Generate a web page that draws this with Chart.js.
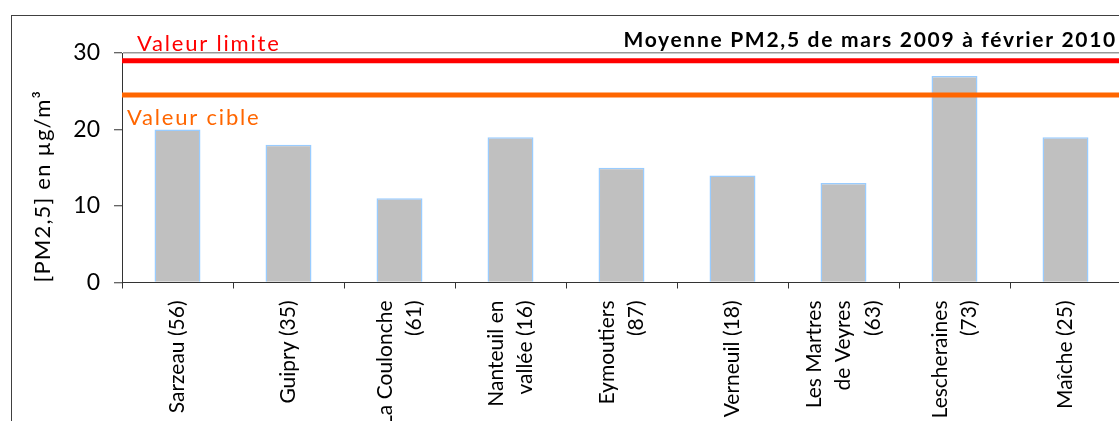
<!DOCTYPE html>
<html>
<head>
<meta charset="utf-8">
<script src="https://cdn.jsdelivr.net/npm/chart.js"></script>
<style>
  html, body { margin: 0; padding: 0; background: #fff; overflow: hidden; }
  #frame { position: absolute; left: 11px; top: 15px; width: 1125px; height: 430px; border: 1px solid #404040; }
  canvas { display: block; }
</style>
</head>
<body>
<div id="frame"><canvas id="pmChart" width="1125" height="430"></canvas></div>
<script>
// Données
var sites = [
    'Sarzeau (56)',
    'Guipry (35)',
    ['La Coulonche', '(61)'],
    ['Nanteuil en', 'vallée (16)'],
    ['Eymoutiers', '(87)'],
    'Verneuil (18)',
    ['Les Martres', 'de Veyres', '(63)'],
    ['Lescheraines', '(73)'],
    'Maîche (25)'
];
var pm25 = [20, 18, 11, 19, 15, 14, 13, 27, 19];
var valeurLimite = 29;
var valeurCible = 24.5;
var yTicks = [0, 10, 20, 30];
var titre = 'Moyenne PM2,5 de mars 2009 à février 2010';
var titreAxeY = '[PM2,5] en µg/m³';

var ctx = document.getElementById('pmChart').getContext('2d');

// textes posés sur le graphique (titre, noms des seuils) + petits réglages de dessin
var annotations = {
    id: 'annotations',
    beforeDraw: function(chart) {
        // centrer les étiquettes sur plusieurs lignes autour de leur graduation
        chart.scales.x.getLabelItems().forEach(function(item) {
            if (item._centered) return;
            var n = Array.isArray(item.label) ? item.label.length : 1;
            item.textOffset -= (n - 1) * item.font.lineHeight / 2;
            item._centered = true;
        });
        // interlettrage du titre de l'axe Y
        var ys = chart.scales.y;
        if (!ys._spaced) {
            var orig = ys.drawTitle;
            ys.drawTitle = function() {
                this.ctx.save();
                this.ctx.letterSpacing = '1.2px';
                orig.call(this);
                this.ctx.restore();
            };
            ys._spaced = true;
        }
    },
    afterDraw: function(chart) {
        var c = chart.ctx, area = chart.chartArea, y = chart.scales.y;
        c.save();
        c.letterSpacing = '1.8px';
        c.textBaseline = 'alphabetic';
        c.textAlign = 'left';
        c.font = '22px Lato';
        c.fillStyle = '#FF0000';
        c.fillText('Valeur limite', area.left + 15, y.getPixelForValue(valeurLimite) - 10);
        c.fillStyle = '#FF6600';
        c.fillText('Valeur cible', area.left + 5, y.getPixelForValue(valeurCible) + 30);
        c.letterSpacing = '1.7px';
        c.font = 'bold 21px Lato';
        c.fillStyle = '#000';
        c.textAlign = 'right';
        c.fillText(titre, area.right - 4, area.top - 6);
        c.restore();
    }
};

var chart = new Chart(ctx, {
    type: 'bar',
    data: {
        labels: sites,
        datasets: [
            {
                type: 'line',
                label: 'Valeur limite',
                xAxisID: 'x2',
                data: [{x: 0, y: valeurLimite}, {x: 1, y: valeurLimite}],
                borderColor: '#FF0000',
                borderWidth: 5,
                pointRadius: 0,
                order: 0
            },
            {
                type: 'line',
                label: 'Valeur cible',
                xAxisID: 'x2',
                data: [{x: 0, y: valeurCible}, {x: 1, y: valeurCible}],
                borderColor: '#FF6600',
                borderWidth: 5,
                pointRadius: 0,
                order: 0
            },
            {
                label: 'PM2,5',
                data: pm25,
                backgroundColor: '#C0C0C0',
                borderColor: '#99CCFF',
                borderWidth: 1.5,
                barPercentage: 0.414,
                categoryPercentage: 1,
                grouped: false,
                order: 1
            }
        ]
    },
    options: {
        responsive: false,
        animation: false,
        layout: { padding: { top: 37, right: 16, left: 0, bottom: 0 } },
        plugins: {
            legend: { display: false },
            tooltip: { enabled: false }
        },
        scales: {
            x: {
                ticks: {
                    autoSkip: false,
                    minRotation: 90,
                    maxRotation: 90,
                    padding: 12,
                    color: '#000',
                    font: { family: 'Lato', size: 21, lineHeight: 1.4 }
                },
                grid: { drawOnChartArea: false, tickLength: 6, color: '#333', offset: true },
                border: { color: '#333' },
                afterFit: function(s) { s.height = 163.5; }
            },
            x2: {
                type: 'linear',
                position: 'top',
                display: false,
                offset: false,
                grace: 0,
                min: 0,
                max: 1
            },
            y: {
                min: 0,
                max: 30,
                afterBuildTicks: function(s) {
                    s.ticks = yTicks.map(function(v) { return { value: v }; });
                },
                ticks: { padding: 14, color: '#000', font: { family: 'Lato', size: 23 } },
                grid: {
                    // seul le haut de la zone de tracé est bordé de gris
                    color: function(c) { return c.tick && c.tick.value === 30 ? '#999999' : 'rgba(0,0,0,0)'; },
                    lineWidth: 1.5,
                    tickColor: '#333',
                    tickWidth: 1,
                    tickLength: 8
                },
                border: { color: '#333' },
                title: {
                    display: true,
                    text: titreAxeY,
                    align: 'start',
                    color: '#000',
                    font: { family: 'Lato', size: 22 },
                    padding: { top: 18, bottom: 0 }
                },
                afterFit: function(s) { s.width = 110; }
            }
        }
    },
    plugins: [annotations]
});
</script>
</body>
</html>
